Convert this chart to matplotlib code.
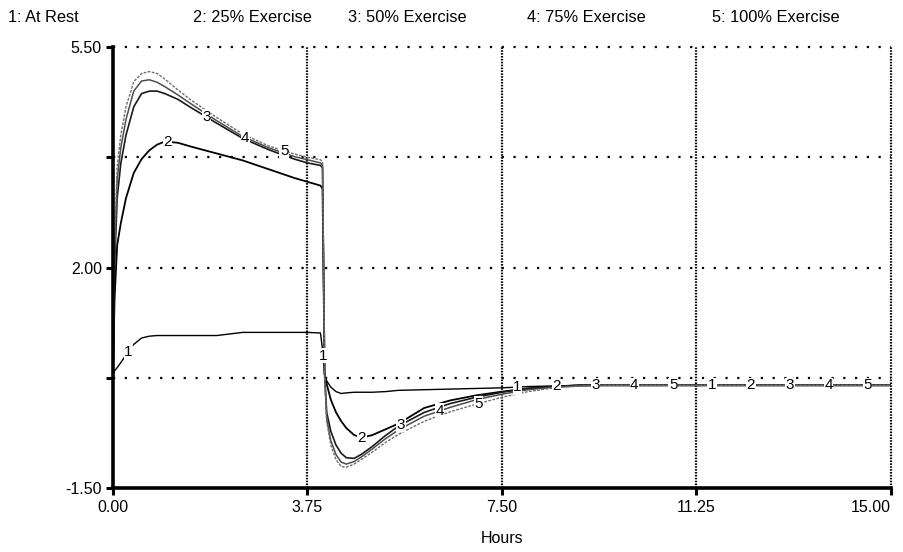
import numpy as np
import matplotlib
matplotlib.use("Agg")
import matplotlib.pyplot as plt

plt.rcParams['font.family'] = ['Liberation Sans', 'DejaVu Sans']

# Simulation time (hours)
hours = [0.0, 0.03, 0.08, 0.15, 0.25, 0.4, 0.55, 0.7, 0.85, 1.0, 1.25, 1.5,
         2.0, 2.5, 3.0, 3.5, 3.75, 4.0, 4.04, 4.08, 4.12, 4.2, 4.3, 4.4, 4.5,
         4.65, 4.8, 5.0, 5.25, 5.5, 6.0, 6.5, 7.0, 7.5, 8.0, 8.5, 9.0, 9.5,
         10.0, 11.0, 12.0, 13.0, 14.0, 15.0]

at_rest = [0.30, 0.36, 0.41, 0.49, 0.61, 0.78, 0.88, 0.91, 0.92, 0.92, 0.92, 0.92,
           0.92, 0.97, 0.97, 0.97, 0.97, 0.96, 0.70, 0.31, 0.20, 0.10, 0.03, 0.00, 0.01,
           0.02, 0.02, 0.02, 0.03, 0.05, 0.06, 0.07, 0.08, 0.09, 0.11, 0.12, 0.13, 0.13,
           0.13, 0.13, 0.13, 0.13, 0.13, 0.13]

exercise_25 = [0.30, 1.50, 2.35, 2.70, 3.10, 3.50, 3.72, 3.86, 3.95, 4.00, 3.98, 3.92,
               3.81, 3.70, 3.56, 3.42, 3.36, 3.30, 3.25, 0.31, 0.15, -0.10, -0.30, -0.44, -0.55,
               -0.66, -0.70, -0.66, -0.57, -0.48, -0.23, -0.11, -0.03, 0.03, 0.08, 0.11, 0.13, 0.13,
               0.13, 0.13, 0.13, 0.13, 0.13, 0.13]

exercise_50 = [0.30, 2.00, 3.10, 3.65, 4.10, 4.55, 4.76, 4.80, 4.80, 4.76, 4.67, 4.54,
               4.29, 4.05, 3.87, 3.72, 3.66, 3.62, 3.58, 0.31, -0.30, -0.60, -0.82, -0.95, -1.02,
               -1.03, -0.96, -0.84, -0.67, -0.52, -0.30, -0.16, -0.06, 0.02, 0.08, 0.11, 0.13, 0.13,
               0.13, 0.13, 0.13, 0.13, 0.13, 0.13]

exercise_75 = [0.30, 2.20, 3.40, 3.90, 4.35, 4.80, 4.96, 4.98, 4.94, 4.87, 4.74, 4.60,
               4.33, 4.08, 3.90, 3.76, 3.71, 3.66, 3.62, 0.31, -0.40, -0.75, -0.97, -1.09, -1.12,
               -1.08, -1.00, -0.88, -0.72, -0.58, -0.36, -0.22, -0.10, -0.01, 0.06, 0.10, 0.12, 0.13,
               0.13, 0.13, 0.13, 0.13, 0.13, 0.13]

exercise_100 = [0.30, 2.40, 3.60, 4.10, 4.55, 4.95, 5.08, 5.11, 5.08, 4.99, 4.82, 4.66,
                4.38, 4.12, 3.93, 3.80, 3.75, 3.71, 3.68, 0.31, -0.45, -0.82, -1.05, -1.16, -1.17,
                -1.12, -1.04, -0.93, -0.78, -0.65, -0.44, -0.29, -0.17, -0.06, 0.03, 0.09, 0.12, 0.13,
                0.13, 0.13, 0.13, 0.13, 0.13, 0.13]

series_names = ["1: At Rest", "2: 25% Exercise", "3: 50% Exercise",
                "4: 75% Exercise", "5: 100% Exercise"]
series_ids = ["1", "2", "3", "4", "5"]
series_values = [at_rest, exercise_25, exercise_50, exercise_75, exercise_100]

x_ticks = [0.0, 3.75, 7.5, 11.25, 15.0]
x_tick_labels = ["0.00", "3.75", "7.50", "11.25", "15.00"]
y_ticks = [5.5, 3.75, 2.0, 0.25, -1.5]
y_tick_labels = ["5.50", "", "2.00", "", "-1.50"]

# Where the series numbers sit along each curve
label_first = [0.3, 1.05, 1.8, 2.55, 3.3]
label_step = 3.75

line_styles = [
    dict(color="black", lw=1.0),
    dict(color="black", lw=1.3),
    dict(color="#1a1a1a", lw=1.2),
    dict(color="#4d4d4d", lw=1.1),
    dict(color="#6e6e6e", lw=1.0, ls=(0, (2, 1))),
]

fig = plt.figure(figsize=(9.04, 5.52), dpi=100)
ax = fig.add_axes([113 / 904, 64 / 552, 778 / 904, 441 / 552])
ax.set_xlim(0, 15)
ax.set_ylim(-1.5, 5.5)

# grid: sparse dots horizontally, dense dots vertically
for yv in [3.75, 2.0, 0.25]:
    ax.axhline(yv, color="black", lw=1.6, ls=(0, (1, 4.3)), zorder=1)
ax.axhline(5.5, color="black", lw=1.6, ls=(0, (1, 4.3)), zorder=1, clip_on=False)
for xv in [3.75, 7.5, 11.25]:
    ax.axvline(xv, color="black", lw=1.6, ls=(0, (0.7, 0.6)), zorder=1)
ax.axvline(15.0, color="black", lw=1.6, ls=(0, (0.7, 0.6)), zorder=1, clip_on=False)

for vals, st in zip(series_values, line_styles):
    ax.plot(hours, vals, zorder=3, solid_joinstyle="round", **st)

for i, (vals, sid) in enumerate(zip(series_values, series_ids)):
    for k in range(4):
        t = label_first[i] + k * label_step
        yv = float(np.interp(t, hours, vals))
        ax.text(t, yv, sid, ha="center", va="center", fontsize=11, zorder=5,
                bbox=dict(facecolor="white", edgecolor="none", pad=0.3))

for s in ["top", "right"]:
    ax.spines[s].set_visible(False)
for s in ["left", "bottom"]:
    ax.spines[s].set_linewidth(2.6)
    ax.spines[s].set_zorder(6)

ax.set_xticks(x_ticks)
ax.set_xticklabels(x_tick_labels)
ax.set_yticks(y_ticks)
ax.set_yticklabels(y_tick_labels)
ax.tick_params(axis="both", direction="out", length=5, width=2.2, labelsize=11.5,
               colors="black")
ax.tick_params(axis="x", pad=4)
ax.tick_params(axis="y", pad=3)
# keep the last hour label inside the figure
last = ax.get_xticklabels()[-1]
last.set_horizontalalignment("right")
last.set_x(15.0)
ax.set_xlabel("Hours", fontsize=11.5, labelpad=11)

header_x = [8, 193, 348, 527, 712]
for name, xp in zip(series_names, header_x):
    fig.text(xp / 904, 1 - 18 / 552, name, ha="left", va="center", fontsize=11.8)

fig.canvas.draw()
last = ax.get_xticklabels()[-1]
last.set_horizontalalignment("right")
fig.savefig("out.png", dpi=100, facecolor="white")
